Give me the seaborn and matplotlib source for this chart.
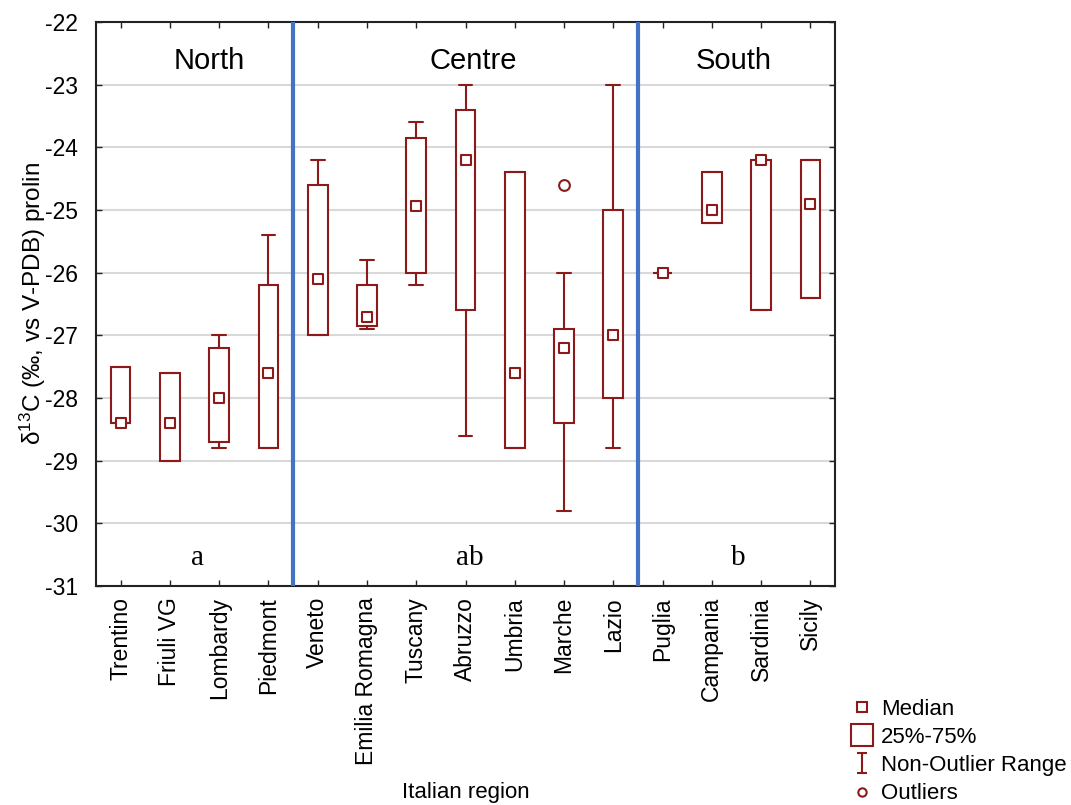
import numpy as np
import pandas as pd
import matplotlib
matplotlib.use('Agg')
import matplotlib.pyplot as plt
from matplotlib.lines import Line2D
from matplotlib.path import Path
import seaborn as sns

# valeurs (delta13C prolin)
regions = ['Trentino', 'Friuli VG', 'Lombardy', 'Piedmont', 'Veneto', 'Emilia Romagna',
           'Tuscany', 'Abruzzo', 'Umbria', 'Marche', 'Lazio', 'Puglia', 'Campania',
           'Sardinia', 'Sicily']
medians = [-28.4, -28.4, -28.0, -27.6, -26.1, -26.7, -24.93, -24.2, -27.6, -27.2, -27.0,
           -26.0, -25.0, -24.2, -24.9]
q1 = [-28.4, -29.0, -28.7, -28.8, -27.0, -26.85, -26.0, -26.6, -28.8, -28.4, -28.0,
      -26.0, -25.2, -26.6, -26.4]
q3 = [-27.5, -27.6, -27.2, -26.2, -24.6, -26.2, -23.85, -23.4, -24.4, -26.9, -25.0,
      -26.0, -24.4, -24.2, -24.2]
whis_lo = [-28.4, -29.0, -28.8, -28.8, -27.0, -26.9, -26.2, -28.6, -28.8, -29.8, -28.8,
           -26.0, -25.2, -26.6, -26.4]
whis_hi = [-27.5, -27.6, -27.0, -25.4, -24.2, -25.8, -23.6, -23.0, -24.4, -26.0, -23.0,
           -26.0, -24.4, -24.2, -24.2]
outlier_region = ['Marche']
outlier_value = [-24.6]

zones = ['North', 'Centre', 'South']
zone_letters = ['a', 'ab', 'b']
zone_limits = [3.5, 10.5]

red = '#8c1a1a'
blue = '#4472c4'

sns.set_theme(style='white')
plt.rcParams['font.family'] = ['Liberation Sans', 'DejaVu Sans']
plt.rcParams['mathtext.default'] = 'regular'
plt.rcParams['axes.unicode_minus'] = False
plt.rcParams['text.color'] = 'black'
plt.rcParams['axes.labelcolor'] = 'black'
plt.rcParams['xtick.color'] = 'black'
plt.rcParams['ytick.color'] = 'black'

fig = plt.figure(figsize=(10.71, 8.05), dpi=100)
ax = fig.add_axes([96 / 1071, 1 - 586 / 805, (835 - 96) / 1071, (586 - 22) / 805])

pos = np.arange(len(regions))
stats = []
for i, r in enumerate(regions):
    stats.append({'label': r, 'med': medians[i], 'q1': q1[i], 'q3': q3[i],
                  'whislo': whis_lo[i], 'whishi': whis_hi[i], 'fliers': []})

ax.bxp(stats, positions=pos, widths=0.4, capwidths=0.28, patch_artist=True,
       showfliers=False,
       boxprops=dict(facecolor='white', edgecolor=red, linewidth=1.5),
       whiskerprops=dict(color=red, linewidth=1.5),
       capprops=dict(color=red, linewidth=1.5),
       medianprops=dict(linewidth=0), zorder=3)

df_med = pd.DataFrame({'pos': pos, 'median': medians})
sns.scatterplot(data=df_med, x='pos', y='median', marker='s', s=55, facecolor='white',
                edgecolor=red, linewidth=1.5, zorder=4, ax=ax)

df_out = pd.DataFrame({'pos': [regions.index(r) for r in outlier_region], 'value': outlier_value})
sns.scatterplot(data=df_out, x='pos', y='value', marker='o', s=60, facecolor='white',
                edgecolor=red, linewidth=1.5, zorder=4, ax=ax)

for xl in zone_limits:
    ax.axvline(xl, color=blue, linewidth=3, zorder=5)

for name, xc in zip(zones, [1.8, 7.15, 12.45]):
    ax.text(xc, -22.62, name, ha='center', va='center', fontsize=21)
for lt, xc in zip(zone_letters, [1.57, 7.09, 12.53]):
    ax.text(xc, -30.55, lt, ha='center', va='center', fontsize=21,
            family=['Liberation Serif', 'DejaVu Serif'])

ax.set_xlim(-0.5, 14.5)
ax.set_ylim(-31, -22)
ax.set_yticks(np.arange(-31, -21, 1))
ax.set_xticks(pos)
ax.set_xticklabels(regions, rotation=90, fontsize=16.5)
ax.tick_params(axis='y', labelsize=16.5, pad=13)
ax.tick_params(axis='x', pad=8)
ax.tick_params(direction='in', length=4, width=1, color='#222222',
               top=True, right=True, bottom=True, left=True)
ax.yaxis.grid(True, color='#d9d9d9', linewidth=1.5, zorder=0)
ax.set_axisbelow(True)
for sp in ax.spines.values():
    sp.set_color('#222222')
    sp.set_linewidth(1.5)

ax.set_xlabel('Italian region', fontsize=16, labelpad=12)
ax.set_ylabel('\u03b4$^{13}$C (‰, vs V-PDB) prolin', fontsize=17.5, labelpad=-2)

ibeam = Path([(-0.5, 1), (0.5, 1), (0, 1), (0, -1), (-0.5, -1), (0.5, -1)],
             [Path.MOVETO, Path.LINETO, Path.MOVETO, Path.LINETO, Path.MOVETO, Path.LINETO])
handles = [
    Line2D([], [], linestyle='none', marker='s', markersize=7, markerfacecolor='white',
           markeredgecolor=red, markeredgewidth=1.5),
    Line2D([], [], linestyle='none', marker='s', markersize=16, markerfacecolor='white',
           markeredgecolor=red, markeredgewidth=1.5),
    Line2D([], [], linestyle='none', marker=ibeam, markersize=15, markerfacecolor='none',
           markeredgecolor=red, markeredgewidth=1.5),
    Line2D([], [], linestyle='none', marker='o', markersize=6, markerfacecolor='white',
           markeredgecolor=red, markeredgewidth=1.5),
]
fig.legend(handles, ['Median', '25%-75%', 'Non-Outlier Range', 'Outliers'],
           loc='upper left', bbox_to_anchor=(851 / 1071, 1 - 699 / 805), frameon=False,
           fontsize=16, handlelength=1.0, handletextpad=0.35, labelspacing=0.32,
           borderpad=0, borderaxespad=0)

fig.savefig('out.png', dpi=100)
